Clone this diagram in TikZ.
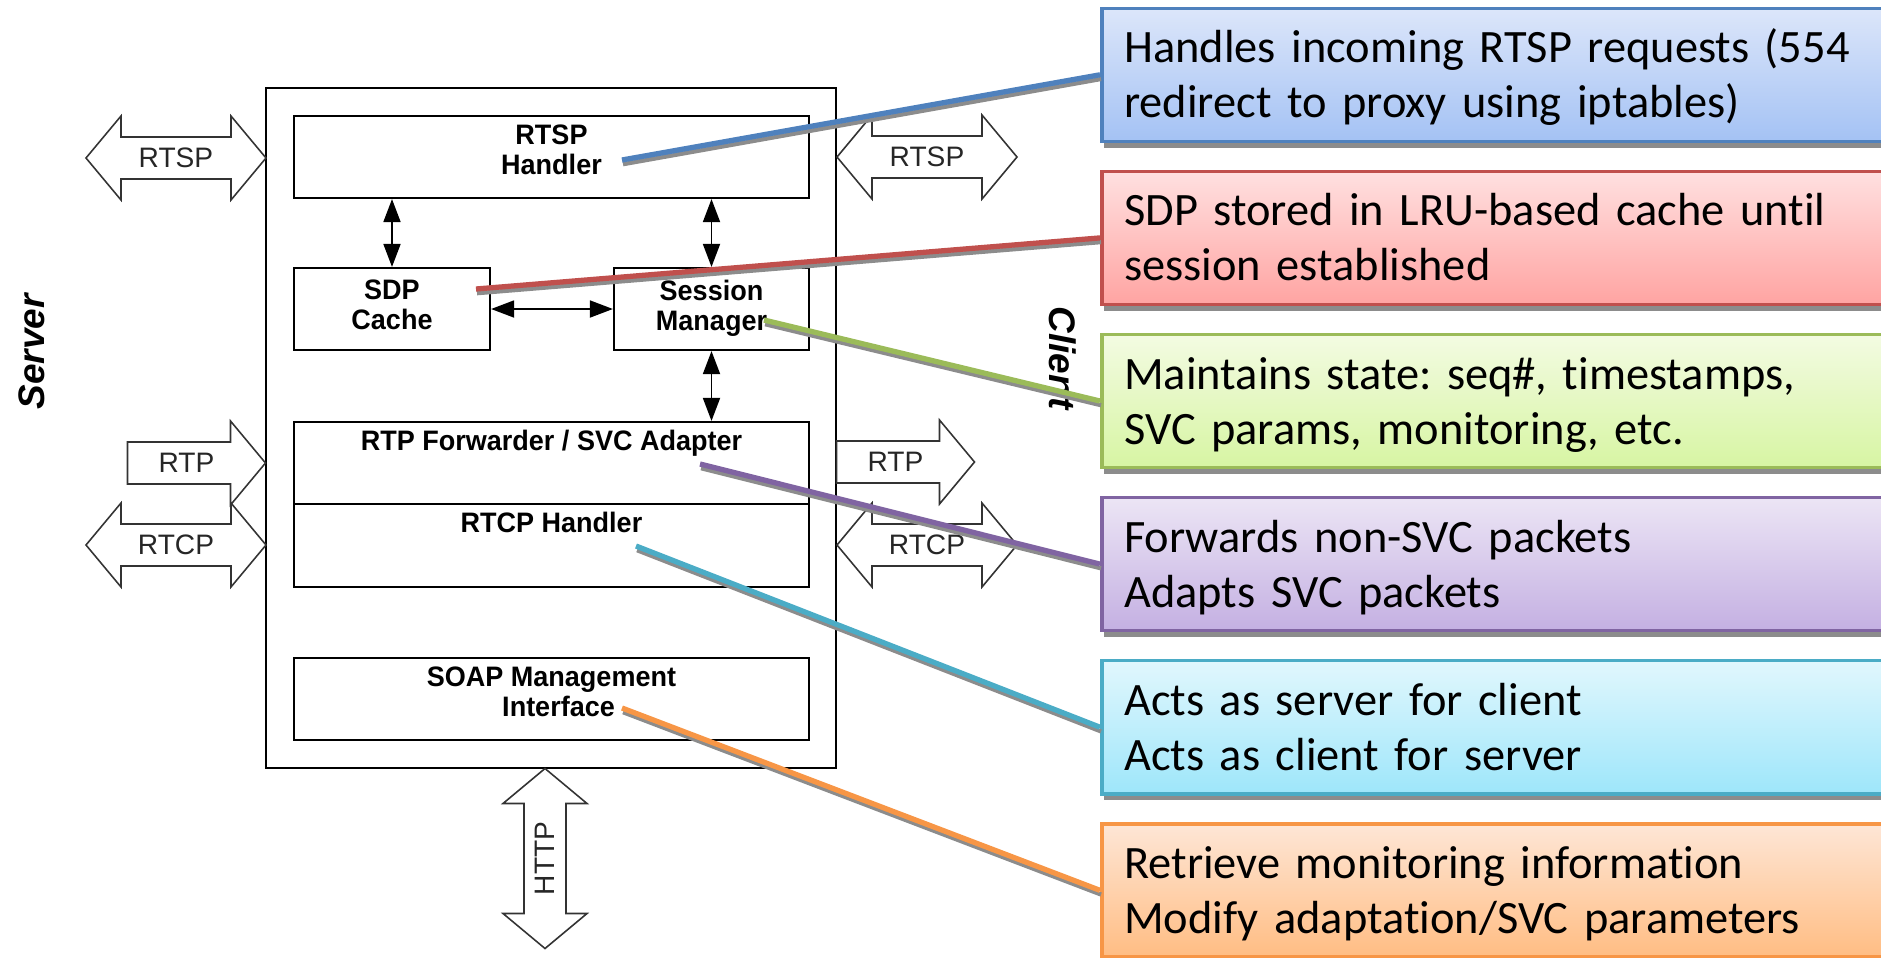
\documentclass[tikz,border=0pt]{standalone}
\usepackage{fontspec}
\setmainfont[Ligatures=NoCommon]{Carlito}
\newfontfamily\diafont{Liberation Sans}
\newfontfamily\narrowfont[FakeStretch=0.96]{Liberation Sans}
\usetikzlibrary{arrows.meta,shadows,positioning}
\frenchspacing

\definecolor{cBlue}{HTML}{4F81BD}
\definecolor{cRed}{HTML}{C0504D}
\definecolor{cGreen}{HTML}{9BBB59}
\definecolor{cPurple}{HTML}{8064A2}
\definecolor{cCyan}{HTML}{4BACC6}
\definecolor{cOrange}{HTML}{F79646}
\definecolor{blueTop}{HTML}{DCE6FA}
\definecolor{blueBot}{HTML}{A4C2F4}
\definecolor{redTop}{HTML}{FFE0E0}
\definecolor{redBot}{HTML}{FFA4A2}
\definecolor{greenTop}{HTML}{F3FBE2}
\definecolor{greenBot}{HTML}{D7F5A3}
\definecolor{purpleTop}{HTML}{ECE5F5}
\definecolor{purpleBot}{HTML}{C4B0E2}
\definecolor{cyanTop}{HTML}{E1F7FD}
\definecolor{cyanBot}{HTML}{9EE6FA}
\definecolor{orangeTop}{HTML}{FEE6D6}
\definecolor{orangeBot}{HTML}{FFBD83}

\tikzset{
  blk/.style={draw, line width=0.6pt, inner sep=0pt},
  inlbl/.style={anchor=north, inner sep=2.5pt, align=center,
    font=\narrowfont\bfseries\fontsize{8pt}{8.6pt}\selectfont},
  biarr/.style={{Triangle[length=2.3mm,width=1.7mm]}-{Triangle[length=2.3mm,width=1.7mm]}, line width=0.5pt},
  fatarr/.style={draw=black!80, line width=0.45pt, fill=white},
  arrlbl/.style={font=\diafont\fontsize{8pt}{9pt}\selectfont, text=black!85},
  side/.style={font=\diafont\bfseries\itshape\fontsize{10.5pt}{12pt}\selectfont},
  callout/.style n args={3}{draw=#1, top color=#2, bottom color=#3, line width=1pt,
    text width=7.5cm, inner xsep=0.225cm, inner ysep=0pt, minimum height=1.33cm,
    text height=0.545cm, text depth=0.785cm, align=left,
    font=\fontsize{13.2pt}{15.65pt}\selectfont,
    general shadow={fill=black!45, shadow xshift=0.6pt, shadow yshift=-1.8pt}},
  lead/.style={line width=1.5pt,
    preaction={draw=black!45, line width=1.2pt, transform canvas={xshift=0.3pt, yshift=-1.2pt}}}
}

% block arrows around a centre point
\newcommand{\dblarrow}[4]{%
  \begin{scope}[shift={#2}, rotate=#3]
    \draw[fatarr] (-90,0) -- (-55,-42) -- (-55,-21) -- (55,-21) -- (55,-42)
      -- (90,0) -- (55,42) -- (55,21) -- (-55,21) -- (-55,42) -- cycle;
    \node[arrlbl, rotate=#3] (#1) at (0,0) {#4};
  \end{scope}}
\newcommand{\sglarrow}[3]{%
  \begin{scope}[shift={#2}]
    \draw[fatarr] (-69,-21) -- (34,-21) -- (34,-42) -- (69,0) -- (34,42)
      -- (34,21) -- (-69,21) -- cycle;
    \node[arrlbl] (#1) at (-10,0) {#3};
  \end{scope}}

\begin{document}
\begin{tikzpicture}[x=0.01cm, y=-0.01cm]
  \useasboundingbox (0,0) rectangle (1881,957);
  \clip (0,0) rectangle (1881,957);

  % proxy and its modules
  \node[draw, line width=0.6pt, minimum width=5.7cm, minimum height=6.8cm] (proxy) at (551,428) {};
  \node[blk, minimum width=5.15cm, minimum height=0.82cm,
    label={[inlbl]north:{RTSP\\Handler}}] (rtsph) at (551.5,157) {};
  \node[blk, minimum width=1.96cm, minimum height=0.82cm,
    label={[inlbl, yshift=-1pt]north:{SDP\\Cache}}] (sdp) at (392,309) {};
  \node[blk, minimum width=1.95cm, minimum height=0.82cm,
    label={[inlbl, yshift=-1pt]north:{Session\\Manager}}] (sess) at (711.5,309) {};
  \node[blk, minimum width=5.15cm, minimum height=0.82cm,
    label={[inlbl]north:{RTP Forwarder / SVC Adapter}}] (rtpf) at (551.5,463) {};
  \node[blk, minimum width=5.15cm, minimum height=0.83cm,
    label={[inlbl]north:{RTCP Handler}}] (rtcph) at (551.5,545.5) {};
  \node[blk, minimum width=5.15cm, minimum height=0.82cm,
    label={[inlbl]north:{SOAP Management\\\hspace*{4pt}Interface}}] (soap) at (551.5,699) {};

  \draw[biarr] (sdp.north |- rtsph.south) -- (sdp.north);
  \draw[biarr] (sess.north |- rtsph.south) -- (sess.north);
  \draw[biarr] (sdp.east) -- (sess.west);
  \draw[biarr] (sess.south) -- (sess.south |- rtpf.north);

  % protocol arrows
  \dblarrow{rtspL}{(176,158)}{0}{RTSP}
  \dblarrow{rtspR}{(927,157)}{0}{RTSP}
  \sglarrow{rtpL}{(196.5,463)}{RTP}
  \sglarrow{rtpR}{(905.5,462)}{RTP}
  \dblarrow{rtcpL}{(176,545)}{0}{RTCP}
  \dblarrow{rtcpR}{(927,545)}{0}{RTCP}
  \dblarrow{http}{(545,858.5)}{90}{HTTP}

  \node[side, rotate=90] (server) at (32,352) {Server};
  \node[side, rotate=-90] (client) at (1063,358) {Client};

  % notes
  \node[callout={cBlue}{blueTop}{blueBot}, anchor=north west] (nRtsp) at (1100,6.5)
    {Handles incoming RTSP requests (554\\redirect to proxy using iptables)};
  \node[callout={cRed}{redTop}{redBot}, below=0.265cm of nRtsp] (nSdp)
    {SDP stored in LRU-based cache until\\session established};
  \node[callout={cGreen}{greenTop}{greenBot}, below=0.265cm of nSdp] (nSess)
    {Maintains state: seq\#, timestamps,\\SVC params, monitoring, etc.};
  \node[callout={cPurple}{purpleTop}{purpleBot}, below=0.265cm of nSess] (nRtp)
    {Forwards non-SVC packets\\Adapts SVC packets};
  \node[callout={cCyan}{cyanTop}{cyanBot}, below=0.265cm of nRtp] (nRtcp)
    {Acts as server for client\\Acts as client for server};
  \node[callout={cOrange}{orangeTop}{orangeBot}, below=0.265cm of nRtcp] (nSoap)
    {Retrieve monitoring information\\Modify adaptation/SVC parameters};

  % leader lines
  \coordinate (pRtsp) at (622,160);
  \coordinate (pSdp) at (476,289);
  \coordinate (pSess) at (764,320);
  \coordinate (pRtp) at (700,464);
  \coordinate (pRtcp) at (636,546);
  \coordinate (pSoap) at (622,708);
  \draw[lead, cBlue] (pRtsp) -- (nRtsp.west);
  \draw[lead, cRed] (pSdp) -- (nSdp.west);
  \draw[lead, cGreen] (pSess) -- (nSess.west);
  \draw[lead, cPurple] (pRtp) -- (nRtp.west);
  \draw[lead, cCyan] (pRtcp) -- (nRtcp.west);
  \draw[lead, cOrange] (pSoap) -- (nSoap.west);
\end{tikzpicture}
\end{document}
